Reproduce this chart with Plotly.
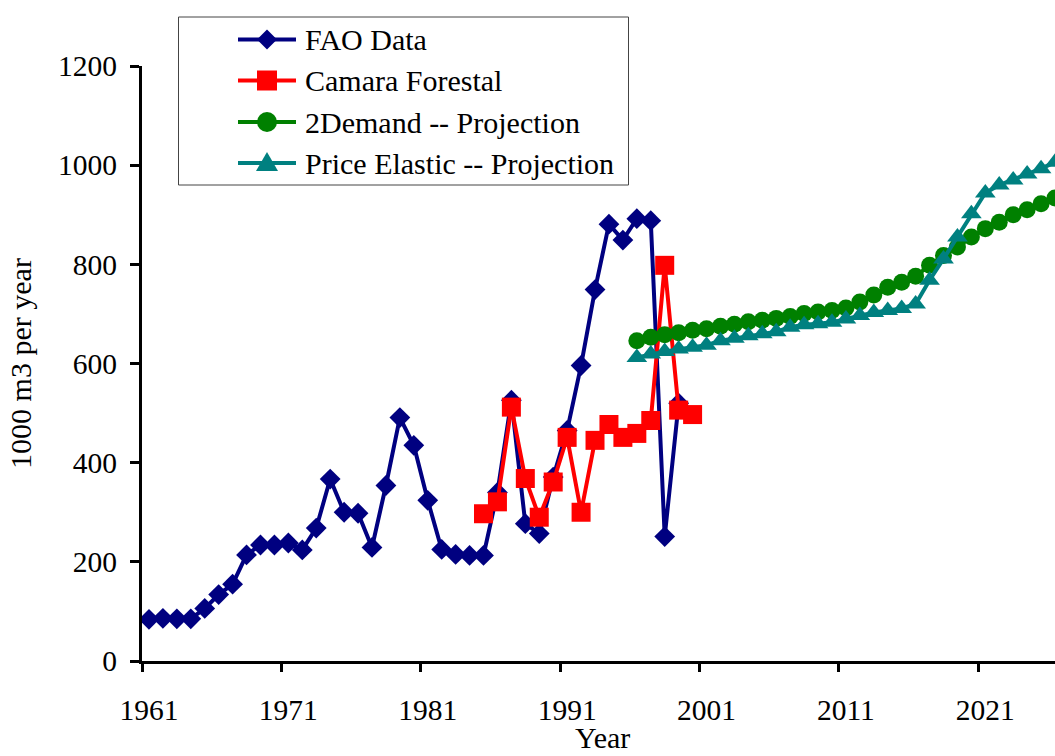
import plotly.graph_objects as go

# ---------------- data ----------------
fao_years = list(range(1961, 2000))
fao_values = [84, 86, 85, 85, 106, 134, 155, 214, 234, 234,
              238, 224, 268, 367, 300, 298, 229, 354, 491, 435,
              324, 225, 215, 213, 213, 340, 526, 277, 257, 371,
              465, 596, 749, 881, 849, 892, 888, 251, 520]

camara_years = list(range(1985, 2001))
camara_values = [297, 321, 512, 368, 290, 361, 451, 300, 445, 477,
                 451, 459, 485, 798, 506, 497]

proj_years = list(range(1996, 2027))
demand_values = [646, 653, 658, 662, 667, 670, 675, 679, 684, 687,
                 691, 695, 701, 704, 707, 712, 724, 738, 754, 764,
                 776, 798, 818, 835, 855, 872, 885, 900, 910, 922, 934]
elastic_values = [612, 619, 624, 629, 633, 637, 646, 651, 656, 660,
                  664, 673, 678, 680, 683, 690, 697, 703, 707, 711,
                  720, 768, 811, 855, 902, 944, 960, 970, 982, 993, 1006]

series_names = ["FAO Data", "Camara Forestal", "2Demand -- Projection",
                "Price Elastic -- Projection"]
x_tick_labels = [1961, 1971, 1981, 1991, 2001, 2011, 2021]
y_tick_labels = [0, 200, 400, 600, 800, 1000, 1200]
x_title = "Year"
y_title = "1000 m3 per year"

# ---------------- styles ----------------
colors = ["#000080", "#FF0000", "#008000", "#008080"]
symbols = ["diamond", "square", "circle", "triangle-up"]
sizes = [16, 19, 17, 18]
FONT = '"Liberation Serif", "Times New Roman", Times, serif'

W_FIG, H_FIG = 1055, 756
L, R, T, B = 142, 0, 66, 95
PW, PH = W_FIG - L - R, H_FIG - T - B


def px_x(p):
    return (p - L) / PW


def px_y(p):
    return (T + PH - p) / PH


fig = go.Figure()

data = [(fao_years, fao_values), (camara_years, camara_values),
        (proj_years, demand_values), (proj_years, elastic_values)]
for i, (xs, ys) in enumerate(data):
    fig.add_trace(go.Scatter(
        x=xs, y=ys, mode="lines+markers", name=series_names[i],
        line=dict(color=colors[i], width=4),
        marker=dict(symbol=symbols[i], size=sizes[i], color=colors[i],
                    line=dict(width=0)),
        showlegend=False,
    ))

# ---------------- manual legend (box, lines, symbols, text) ----------------
row_y = [39.5, 80.5, 122, 163]
sym_x = 267
shapes = [dict(type="rect", xref="paper", yref="paper",
               x0=px_x(178.5), x1=px_x(628.5), y0=px_y(185), y1=px_y(17),
               line=dict(color="#444444", width=1), layer="below")]
annotations = []
for i, ry in enumerate(row_y):
    shapes.append(dict(type="line", xref="paper", yref="paper",
                       x0=px_x(238), x1=px_x(296), y0=px_y(ry), y1=px_y(ry),
                       line=dict(color=colors[i], width=4), layer="above"))
    annotations.append(dict(xref="paper", yref="paper", x=px_x(303), y=px_y(ry),
                            xanchor="left", yanchor="middle", showarrow=False,
                            text=series_names[i],
                            font=dict(family=FONT, size=30, color="black")))

# x axis title placed as an annotation near the bottom edge, as in the reference
annotations.append(dict(xref="paper", yref="paper", x=px_x(602), y=px_y(737),
                        xanchor="center", yanchor="middle", showarrow=False,
                        text=x_title,
                        font=dict(family=FONT, size=30, color="black")))


def sym_path(kind, cx, cy):
    if kind == "diamond":
        h = 10
        pts = [(cx - h, cy), (cx, cy - h), (cx + h, cy), (cx, cy + h)]
    elif kind == "square":
        h = 10
        pts = [(cx - h, cy - h), (cx + h, cy - h), (cx + h, cy + h), (cx - h, cy + h)]
    else:  # triangle-up
        pts = [(cx - 11, cy + 8), (cx + 11, cy + 8), (cx, cy - 11)]
    return "M " + " L ".join(f"{px_x(a):.5f},{px_y(b):.5f}" for a, b in pts) + " Z"


for i, ry in enumerate(row_y):
    if symbols[i] == "circle":
        shapes.append(dict(type="circle", xref="paper", yref="paper",
                           x0=px_x(sym_x - 10), x1=px_x(sym_x + 10),
                           y0=px_y(ry + 10), y1=px_y(ry - 10),
                           fillcolor=colors[i], line=dict(width=0), layer="above"))
    else:
        shapes.append(dict(type="path", xref="paper", yref="paper",
                           path=sym_path(symbols[i], sym_x, ry),
                           fillcolor=colors[i], line=dict(width=0), layer="above"))

fig.update_layout(
    width=W_FIG, height=H_FIG,
    margin=dict(l=L, r=R, t=T, b=B, autoexpand=False),
    paper_bgcolor="white", plot_bgcolor="white",
    font=dict(family=FONT, size=30, color="black"),
    showlegend=False,
    shapes=shapes, annotations=annotations,
    xaxis=dict(
        range=[1960.5, 2026.0], showgrid=False, zeroline=False,
        showline=True, linewidth=3, linecolor="black",
        tickmode="array", tickvals=x_tick_labels,
        ticktext=[str(v) for v in x_tick_labels],
        ticks="", ticklabelstandoff=21,
        tickfont=dict(family=FONT, size=29.5, color="black"),
        minor=dict(tickmode="linear", tick0=1960.5, dtick=10, ticks="outside",
                   ticklen=8, tickwidth=3, tickcolor="black", showgrid=False),
        automargin=False,
    ),
    yaxis=dict(
        range=[0, 1200], showgrid=False, zeroline=False,
        showline=True, linewidth=3, linecolor="black",
        tickmode="array", tickvals=y_tick_labels,
        ticks="outside", ticklen=9, tickwidth=3, tickcolor="black",
        ticklabelstandoff=7,
        tickfont=dict(family=FONT, size=29.5, color="black"),
        title=dict(text=y_title, font=dict(family=FONT, size=30),
                   standoff=18),
        automargin=False,
    ),
)

fig.write_html("out.html")
